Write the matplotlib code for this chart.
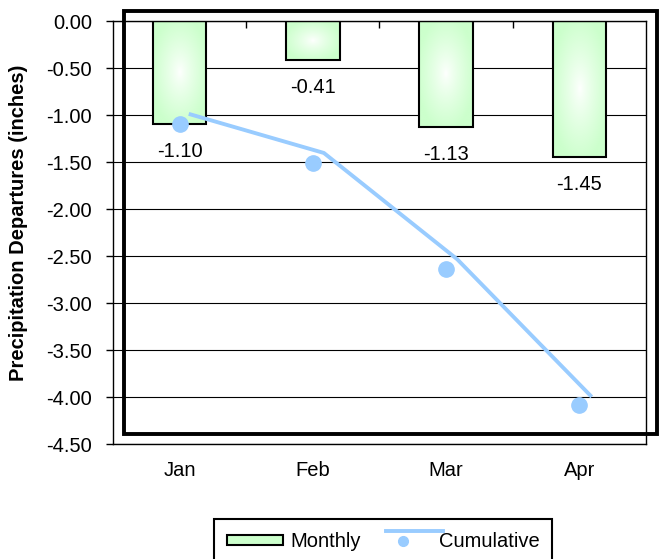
import numpy as np
import matplotlib.pyplot as plt
from matplotlib.patches import Patch, Rectangle
from matplotlib.lines import Line2D
from matplotlib.legend_handler import HandlerLine2DCompound
from matplotlib.colors import LinearSegmentedColormap
from matplotlib.ticker import FormatStrFormatter
from matplotlib.transforms import offset_copy

# data
months = ['Jan', 'Feb', 'Mar', 'Apr']
monthly = [-1.10, -0.41, -1.13, -1.45]
cumulative = [-1.10, -1.51, -2.64, -4.09]
yticks = np.arange(0, -4.51, -0.5)

plt.rcParams['font.family'] = ['Liberation Sans', 'DejaVu Sans']
plt.rcParams['font.size'] = 14.5

green = '#ccffcc'
blue = '#99ccff'
grad_cmap = LinearSegmentedColormap.from_list('barfill', ['white', green])


class ShiftedLineHandler(HandlerLine2DCompound):
    # Excel draws the line a little up and right of its markers
    def create_artists(self, legend, orig_handle, xdescent, ydescent,
                       width, height, fontsize, trans):
        line, marker = super().create_artists(legend, orig_handle, xdescent, ydescent,
                                              width, height, fontsize, trans)
        line.set_xdata(np.asarray(line.get_xdata()) + 8)
        line.set_ydata(np.asarray(line.get_ydata()) + 7.5)
        return [line, marker]


fig = plt.figure(figsize=(6.62, 5.59), dpi=100)
ax = fig.add_axes([0.1707, 0.2057, 0.8051, 0.7567])

x = np.arange(len(months))
bars = ax.bar(x, monthly, width=0.4, color='none', edgecolor='black', lw=1.5, zorder=3)

# gradient fill, white in the middle
u, v = np.meshgrid(np.linspace(-1, 1, 60), np.linspace(-1, 1, 60))
dist = np.clip(np.sqrt(u ** 2 + v ** 2) / 1.1, 0, 1) ** 0.8
for b in bars:
    x0, y0, w, h = b.get_x(), b.get_y(), b.get_width(), b.get_height()
    ax.imshow(dist, extent=(x0, x0 + w, y0 + h, y0), cmap=grad_cmap, vmin=0, vmax=1,
              aspect='auto', interpolation='bilinear', zorder=2)

shift = offset_copy(ax.transData, fig=fig, x=11, y=10, units='dots')
ax.plot(x, cumulative, color=blue, lw=2.8, transform=shift, zorder=4)
ax.plot(x, cumulative, 'o', color=blue, ms=11, ls='none', zorder=5, clip_on=False)

ax.bar_label(bars, labels=[f'{v:.2f}' for v in monthly], padding=13)

ax.set_xlim(-0.5, 3.5)
ax.set_ylim(-4.5, 0)
ax.set_xticks(x, months)
ax.set_xticks([0.5, 1.5, 2.5], minor=True)
ax.tick_params(axis='x', which='major', length=0, pad=12)
ax.tick_params(axis='x', which='minor', bottom=False, top=True, direction='in', length=5, width=1)
ax.set_yticks(yticks)
ax.yaxis.set_major_formatter(FormatStrFormatter('%.2f'))
ax.tick_params(axis='y', direction='out', length=5, width=1, pad=10)
ax.grid(axis='y', color='black', lw=0.8, zorder=1)
ax.set_axisbelow(True)
for s in ax.spines.values():
    s.set_linewidth(1.0)

ax.set_ylabel('Precipitation Departures (inches)', fontweight='bold')
ax.yaxis.set_label_coords(-0.16, 0.522)

# thick plot-area border, offset like the line
frame_tr = offset_copy(ax.transAxes, fig=fig, x=11, y=10, units='dots')
ax.add_patch(Rectangle((0, 0), 1, 1, transform=frame_tr, fill=False, ec='black',
                       lw=2.8, clip_on=False, zorder=6))

handles = [Patch(facecolor=green, edgecolor='black', lw=1.5),
           Line2D([], [], color=blue, lw=2.8, marker='o', ms=7)]
leg = fig.legend(handles, ['Monthly', 'Cumulative'], loc='upper left',
                 bbox_to_anchor=(214 / 662, 1 - 519 / 559), ncol=2,
                 fancybox=False, edgecolor='black', framealpha=1,
                 borderpad=0.65, borderaxespad=0, handlelength=2.8, handleheight=0.4,
                 handletextpad=0.35, columnspacing=0.7,
                 handler_map={Line2D: ShiftedLineHandler()})
leg.get_frame().set_linewidth(1.5)

fig.savefig('out.png', dpi=100)
